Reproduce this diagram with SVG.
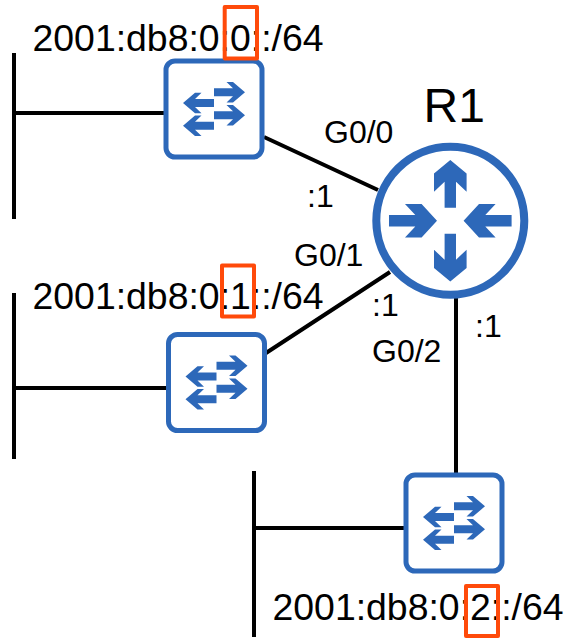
<svg xmlns="http://www.w3.org/2000/svg" width="568" height="639" viewBox="0 0 568 639">
<style>
.t{font-family:"Liberation Sans",Arial,sans-serif;fill:#000}
.a{font-size:37.4px}.l{font-size:32px}.r{font-size:48px}
.w{fill:none;stroke:#000;stroke-width:4}
.m{fill:none;stroke:#ff4a0a;stroke-width:4;stroke-linejoin:round}
.b{fill:#2d68b9}
</style>
<defs>
<polygon id="ar" points="0,-4 19,-4 12.5,-10.2 19,-10.2 31,0 19,10.2 12.5,10.2 19,4 0,4"/>
<g id="sw">
<rect x="-48" y="-48" width="96" height="96" rx="9" fill="#fff" stroke="#2d68b9" stroke-width="5"/>
<use href="#ar" class="b" transform="translate(0,-16.7)"/>
<use href="#ar" class="b" transform="translate(0,6.3)"/>
<use href="#ar" class="b" transform="translate(0,-6) scale(-1,1)"/>
<use href="#ar" class="b" transform="translate(0,16.7) scale(-1,1)"/>
</g>
<polygon id="ro" points="0,-60.7 16.3,-47.3 16.3,-29 5.7,-39 5.7,-13 -5.7,-13 -5.7,-39 -16.3,-29 -16.3,-47.3"/>
<polygon id="ri" points="-61.3,-5.7 -35,-5.7 -45.3,-16.7 -28.7,-16.7 -13.3,0 -28.7,16.7 -45.3,16.7 -35,5.7 -61.3,5.7"/>
</defs>
<g id="connectors">
<path class="w" d="M14 53V219M14 113H164M14 293V459M14 388H167M254 471V637M254 528H404"/>
<path class="w" d="M264 137L378 190M266 353L390 272M456 298V473"/>
</g>
<g id="switch1"><use href="#sw" transform="translate(214,109)"/></g>
<g id="switch2"><use href="#sw" transform="translate(216.5,382.5)"/></g>
<g id="switch3"><use href="#sw" transform="translate(454,523)"/></g>
<g id="router">
<circle cx="450.3" cy="220.7" r="74" fill="#fff" stroke="#2d68b9" stroke-width="8"/>
<g transform="translate(450.3,220.7)" class="b">
<use href="#ro"/><use href="#ro" transform="scale(1,-1)"/>
<use href="#ri"/><use href="#ri" transform="scale(-1,1)"/>
</g>
<text class="t r" x="423.5" y="122">R1</text>
</g>
<g id="labels">
<text class="t a" x="32.5" y="51">2001:db8:0:0::/64</text>
<text class="t a" x="32.5" y="309">2001:db8:0:1::/64</text>
<text class="t a" x="272.5" y="620">2001:db8:0:2::/64</text>
<text class="t l" x="324" y="143">G0/0</text>
<text class="t l" x="307" y="207">:1</text>
<text class="t l" x="294" y="266">G0/1</text>
<text class="t l" x="372" y="316">:1</text>
<text class="t l" x="372" y="362">G0/2</text>
<text class="t l" x="475" y="337">:1</text>
</g>
<g id="highlights">
<rect class="m" x="224.7" y="7" width="32.3" height="51.5"/>
<rect class="m" x="222" y="265.5" width="32" height="51"/>
<rect class="m" x="466" y="586" width="32" height="50"/>
</g>
</svg>
